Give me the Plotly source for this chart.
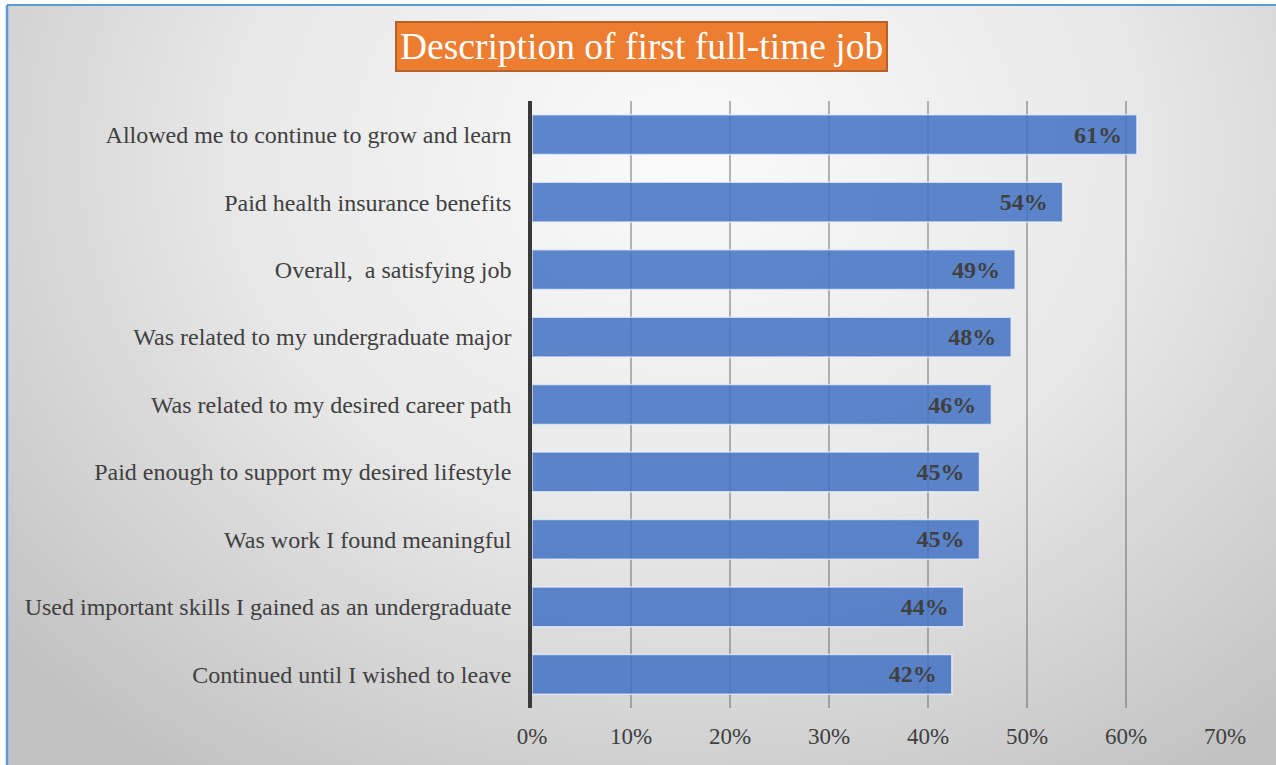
import base64
import plotly.graph_objects as go

# Survey responses: share of graduates describing their first full-time job
statements = [
    "Allowed me to continue to grow and learn",
    "Paid health insurance benefits",
    "Overall,  a satisfying job",
    "Was related to my undergraduate major",
    "Was related to my desired career path",
    "Paid enough to support my desired lifestyle",
    "Was work I found meaningful",
    "Used important skills I gained as an undergraduate",
    "Continued until I wished to leave",
]
shares = [0.611, 0.536, 0.488, 0.484, 0.464, 0.452, 0.452, 0.436, 0.424]
x_ticks = [0, 0.1, 0.2, 0.3, 0.4, 0.5, 0.6, 0.7]
x_tick_text = ["0%", "10%", "20%", "30%", "40%", "50%", "60%", "70%"]

W, H = 1276, 765
M_L, M_R, M_T, M_B = 532, 51, 101, 57
PW, PH = W - M_L - M_R, H - M_T - M_B

SERIF = "Liberation Serif, Times New Roman, serif"
TEXT = "#404040"


def px_to_paper_x(px):
    return (px - M_L) / PW


def px_to_paper_y(py):
    return (H - M_B - py) / PH


# Soft radial grey background for the chart frame
FX, FY = 7, 5
FW, FH = W - FX, H - FY
svg = f"""<svg xmlns='http://www.w3.org/2000/svg' width='{FW}' height='{FH}' viewBox='0 0 {FW} {FH}' preserveAspectRatio='none'>
<defs><radialGradient id='g' gradientUnits='userSpaceOnUse' cx='680' cy='150' r='900'
 gradientTransform='translate(680 150) scale(1 0.8333) translate(-680 -150)'>
<stop offset='0' stop-color='#fbfbfb'/><stop offset='0.5' stop-color='#e8e8e8'/><stop offset='1' stop-color='#c2c2c2'/>
</radialGradient></defs>
<rect x='0' y='0' width='{FW}' height='{FH}' fill='url(#g)'/></svg>"""
bg_src = "data:image/svg+xml;base64," + base64.b64encode(svg.encode()).decode()

fig = go.Figure(
    go.Bar(
        x=shares,
        y=statements,
        orientation="h",
        marker=dict(
            color="rgba(68,114,196,0.86)",
            line=dict(color="rgba(235,240,250,0.75)", width=1.5),
        ),
        texttemplate="%{x:.0%}\u00a0\u00a0",
        textposition="inside",
        insidetextanchor="end",
        textfont=dict(family=SERIF, size=24, color=TEXT, weight="bold"),
        constraintext="none",
        hoverinfo="skip",
    )
)

fig.update_layout(
    width=W,
    height=H,
    margin=dict(l=M_L, r=M_R, t=M_T, b=M_B),
    paper_bgcolor="white",
    plot_bgcolor="rgba(0,0,0,0)",
    showlegend=False,
    bargap=0.41,
    font=dict(family=SERIF, color=TEXT),
    images=[
        dict(
            source=bg_src,
            xref="paper",
            yref="paper",
            x=px_to_paper_x(FX),
            y=px_to_paper_y(FY),
            sizex=FW / PW,
            sizey=FH / PH,
            xanchor="left",
            yanchor="top",
            sizing="stretch",
            layer="below",
        )
    ],
    shapes=[
        dict(type="line", xref="paper", yref="paper",
             x0=px_to_paper_x(FX), x1=px_to_paper_x(FX),
             y0=px_to_paper_y(FY), y1=px_to_paper_y(H + 5),
             line=dict(color="#5B9BD5", width=2.5)),
        dict(type="line", xref="paper", yref="paper",
             x0=px_to_paper_x(FX), x1=px_to_paper_x(W + 5),
             y0=px_to_paper_y(FY), y1=px_to_paper_y(FY),
             line=dict(color="#5B9BD5", width=2)),
    ],
    annotations=[
        dict(
            text="Description of first full-time job",
            xref="paper",
            yref="paper",
            x=px_to_paper_x(641),
            y=px_to_paper_y(46.5),
            xanchor="center",
            yanchor="middle",
            showarrow=False,
            font=dict(family=SERIF, size=37.5, color="white"),
            bgcolor="#ED7D31",
            bordercolor="#B9612A",
            borderwidth=2,
            borderpad=3,
        )
    ],
)

fig.update_xaxes(
    range=[0, 0.7],
    tickvals=x_ticks,
    ticktext=x_tick_text,
    showgrid=True,
    gridcolor="rgba(95,95,95,0.45)",
    gridwidth=1.5,
    zeroline=False,
    showline=False,
    tickfont=dict(family=SERIF, size=23, color=TEXT),
    ticklabelstandoff=12,
    fixedrange=True,
)

fig.update_yaxes(
    categoryorder="array",
    categoryarray=statements[::-1],
    showgrid=False,
    showline=True,
    linecolor="#3a3a3a",
    linewidth=3.5,
    tickfont=dict(family=SERIF, size=24, color=TEXT),
    ticklabelstandoff=12,
    fixedrange=True,
)

fig.write_html("out.html")
